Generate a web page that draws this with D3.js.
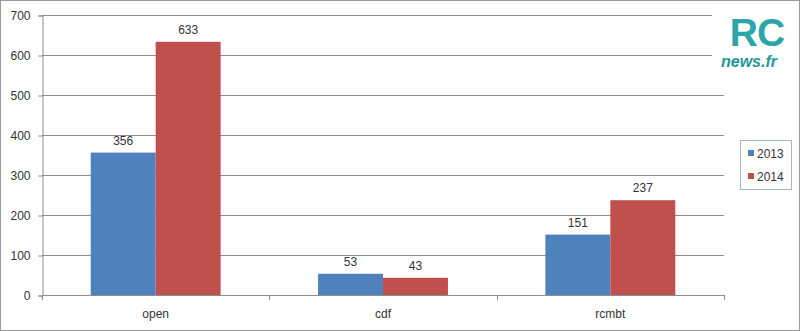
<!DOCTYPE html>
<html>
<head>
<meta charset="utf-8">
<script src="https://cdn.jsdelivr.net/npm/d3@7"></script>
<style>
  body { margin: 0; background: #fff; }
  text { font-family: "Liberation Sans", Arial, sans-serif; fill: #333; }
</style>
</head>
<body>
<div class="chart"></div>
<script>
"use strict";

const categories = ["open", "cdf", "rcmbt"];
const seriesNames = ["2013", "2014"];
const values2013 = [356, 53, 151];
const values2014 = [633, 43, 237];
const yTicks = [0, 100, 200, 300, 400, 500, 600, 700];
const colors = ["#4f81bd", "#c0504d"];

const W = 800, H = 331;
const PLOT = { left: 42, right: 724, top: 15, bottom: 295 };

const svg = d3.select(".chart").append("svg")
  .attr("width", W).attr("height", H);

// outer frame
svg.append("rect")
  .attr("x", 0.5).attr("y", 0.5)
  .attr("width", W - 1).attr("height", H - 1)
  .attr("fill", "#fff").attr("stroke", "#9a9a9a");

// scales
const x0 = d3.scaleBand().domain(categories).range([PLOT.left, PLOT.right]);
const x1 = d3.scaleBand().domain(seriesNames).range([0, x0.bandwidth()])
  .paddingInner(0).paddingOuter(0.75);
const y = d3.scaleLinear().domain([0, 700]).range([PLOT.bottom, PLOT.top]);

// gridlines
svg.append("g").selectAll("line").data(yTicks.slice(1)).join("line")
  .attr("x1", PLOT.left).attr("x2", PLOT.right)
  .attr("y1", d => Math.round(y(d)) + 0.5).attr("y2", d => Math.round(y(d)) + 0.5)
  .attr("stroke", "#8c8c8c");

// y axis
const yAxis = d3.axisLeft(y).tickValues(yTicks).tickSize(4).tickPadding(8);
const yG = svg.append("g")
  .attr("transform", `translate(${PLOT.left + 0.5},0.5)`)
  .call(yAxis);
yG.selectAll("path, line").attr("stroke", "#8c8c8c");
yG.selectAll("text").style("font-size", "12px").style("fill", "#333")
  .style("font-family", "Liberation Sans, Arial, sans-serif");

// bars
const data = categories.map((c, i) => ({
  cat: c,
  vals: [{ s: seriesNames[0], v: values2013[i] }, { s: seriesNames[1], v: values2014[i] }]
}));

const groups = svg.append("g").selectAll("g").data(data).join("g")
  .attr("transform", d => `translate(${x0(d.cat)},0)`);

groups.selectAll("rect").data(d => d.vals).join("rect")
  .attr("x", d => x1(d.s))
  .attr("y", d => y(d.v))
  .attr("width", x1.bandwidth())
  .attr("height", d => y(0) - y(d.v))
  .attr("fill", (d, i) => colors[i]);

groups.selectAll("text.val").data(d => d.vals).join("text")
  .attr("class", "val")
  .attr("x", d => x1(d.s) + x1.bandwidth() / 2)
  .attr("y", d => y(d.v) - 8)
  .attr("text-anchor", "middle")
  .style("font-size", "12px")
  .text(d => d.v);

// x axis
const xG = svg.append("g");
xG.append("line")
  .attr("x1", PLOT.left).attr("x2", PLOT.right + 1)
  .attr("y1", PLOT.bottom + 0.5).attr("y2", PLOT.bottom + 0.5)
  .attr("stroke", "#8c8c8c");
const bounds = categories.map(c => x0(c)).concat([PLOT.right]);
xG.selectAll("line.tick").data(bounds).join("line")
  .attr("class", "tick")
  .attr("x1", d => Math.round(d) + 0.5).attr("x2", d => Math.round(d) + 0.5)
  .attr("y1", PLOT.bottom).attr("y2", PLOT.bottom + 5)
  .attr("stroke", "#8c8c8c");
xG.selectAll("text").data(categories).join("text")
  .attr("x", d => x0(d) + x0.bandwidth() / 2)
  .attr("y", 318)
  .attr("text-anchor", "middle")
  .style("font-size", "12px")
  .text(d => d);

// legend
const legend = svg.append("g");
legend.append("rect")
  .attr("x", 740.5).attr("y", 140.5).attr("width", 51).attr("height", 49)
  .attr("fill", "#fff").attr("stroke", "#a8b6c8");
seriesNames.forEach((s, i) => {
  legend.append("rect")
    .attr("x", 748).attr("y", 150 + i * 23).attr("width", 6).attr("height", 6)
    .attr("fill", colors[i]);
  legend.append("text")
    .attr("x", 757).attr("y", 157.5 + i * 23)
    .style("font-size", "12px")
    .text(s);
});

// logo
const logo = svg.append("g");
logo.append("rect")
  .attr("x", 712).attr("y", 9).attr("width", 82).attr("height", 64)
  .attr("fill", "#fff");
logo.append("text")
  .attr("x", 757).attr("y", 46)
  .attr("text-anchor", "middle")
  .style("font-family", "Liberation Sans, Arial, sans-serif")
  .style("font-weight", "bold").style("font-size", "39px")
  .style("letter-spacing", "-1px")
  .style("fill", "#2ba6a8").style("stroke", "#ffffff").style("stroke-width", "1.5px")
  .style("paint-order", "stroke")
  .text("RC");
logo.append("text")
  .attr("x", 749).attr("y", 67)
  .attr("text-anchor", "middle")
  .style("font-family", "Liberation Sans, Arial, sans-serif")
  .style("font-weight", "bold").style("font-style", "italic").style("font-size", "16px")
  .style("fill", "#23989a")
  .text("news.fr");
</script>
</body>
</html>
